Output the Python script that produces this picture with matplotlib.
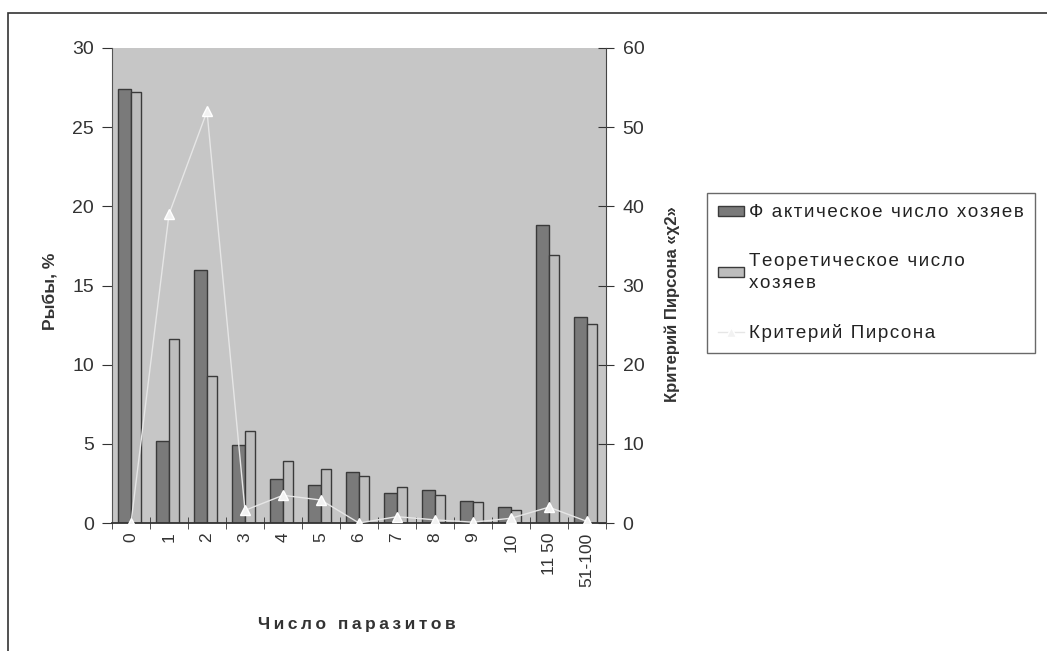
import matplotlib
matplotlib.use("Agg")
import matplotlib.pyplot as plt
import numpy as np

plt.rcParams['font.family'] = ['Liberation Sans', 'DejaVu Sans']

# Data
categories = ['0', '1', '2', '3', '4', '5', '6', '7', '8', '9', '10', '11 50', '51-100']
actual = [27.4, 5.2, 16.0, 4.9, 2.8, 2.4, 3.2, 1.9, 2.1, 1.4, 1.0, 18.8, 13.0]
theoretical = [27.2, 11.6, 9.3, 5.8, 3.9, 3.4, 3.0, 2.3, 1.8, 1.3, 0.8, 16.9, 12.6]
pearson = [0.0, 39.0, 52.0, 1.6, 3.5, 2.9, 0.0, 0.8, 0.4, 0.1, 0.6, 2.0, 0.2]


# spread letters a little, like the scanned Excel text
def spaced(s, gap='\u200a'):
    return '\n'.join(gap.join(line) for line in s.split('\n'))


W, H = 1047, 651
fig = plt.figure(figsize=(W / 100, H / 100), dpi=100)

# Outer chart border (runs off the right and bottom edges)
fig.patches.append(plt.Rectangle((8 / W, -0.05), 1.1, 1 - 13 / H + 0.05,
                                 transform=fig.transFigure, fill=False,
                                 edgecolor='#333333', linewidth=1.2))

ax = fig.add_axes([112 / W, 1 - 523 / H, (606 - 112) / W, (523 - 48) / H])
ax.set_facecolor('#c6c6c6')

x = np.arange(len(categories))
w = 0.34
ax.bar(x - w / 2, actual, w, color='#7a7a7a', edgecolor='#3a3a3a', linewidth=1, zorder=2,
       label=spaced('Ф актическое число хозяев'))
ax.bar(x + w / 2 - 0.04, theoretical, w - 0.06, color='#bdbdbd', edgecolor='#3a3a3a', linewidth=1,
       zorder=2, label=spaced('Теоретическое число\nхозяев'))

ax.set_xlim(-0.5, len(categories) - 0.5)
ax.set_ylim(0, 30)
ax.set_yticks([0, 5, 10, 15, 20, 25, 30])
ax.set_xticks(x)
ax.set_xticklabels(categories, rotation=90, fontsize=12.5, color='#333333')
ax.set_xticks(np.arange(len(categories) + 1) - 0.5, minor=True)
ax.tick_params(axis='x', which='major', length=0, pad=7)
ax.tick_params(axis='x', which='minor', direction='inout', length=9, color='#333333')
ax.tick_params(axis='y', labelsize=14, labelcolor='#333333', length=7, color='#333333', pad=6)
for s in ['top', 'right']:
    ax.spines[s].set_visible(False)
ax.spines['left'].set_color('#555555')
ax.spines['bottom'].set_color('#333333')
ax.spines['bottom'].set_linewidth(1.3)

ax2 = ax.twinx()
ax2.plot(x, pearson, color='white', linewidth=1, marker='^', markersize=7,
         markerfacecolor='#f2f2f2', markeredgecolor='white', zorder=3,
         label=spaced('Критерий Пирсона'))
ax2.set_ylim(0, 60)
ax2.set_yticks([0, 10, 20, 30, 40, 50, 60])
ax2.tick_params(axis='y', labelsize=14, labelcolor='#333333', direction='inout', length=12,
                color='#333333', pad=6)
for s in ['top', 'left', 'bottom']:
    ax2.spines[s].set_visible(False)
ax2.spines['right'].set_color('#444444')

# Axis titles
fig.text(50 / W, 1 - 291 / H, 'Рыбы, %', rotation=90, ha='center', va='center',
         fontsize=12.5, fontweight='bold', color='#333333')
fig.text(672 / W, 1 - 304 / H, 'Критерий Пирсона «χ2»', rotation=90, ha='center', va='center',
         fontsize=12, fontweight='bold', color='#333333')
xlabel = '\u2009'.join('Число') + '\u2009 \u2009' + '\u2009'.join('паразитов')
fig.text(357 / W, 1 - 625 / H, xlabel, ha='center', va='center',
         fontsize=12.5, fontweight='bold', color='#333333')

h1, l1 = ax.get_legend_handles_labels()
h2, l2 = ax2.get_legend_handles_labels()
h2[0].set_color('#e6e6e6')
leg = fig.legend(h1 + h2, l1 + l2, loc='upper left', bbox_to_anchor=(707 / W, 1 - 193 / H),
                 fontsize=13.5, frameon=True, fancybox=False, edgecolor='#444444',
                 labelspacing=1.7, handlelength=1.35, handleheight=0.45, borderpad=0.6,
                 handletextpad=0.3, borderaxespad=0, labelcolor='#222222')
leg.get_frame().set_linewidth(1)
for t in leg.get_texts():
    t.set_linespacing(1.35)

fig.savefig('out.png', dpi=100, facecolor='white')
